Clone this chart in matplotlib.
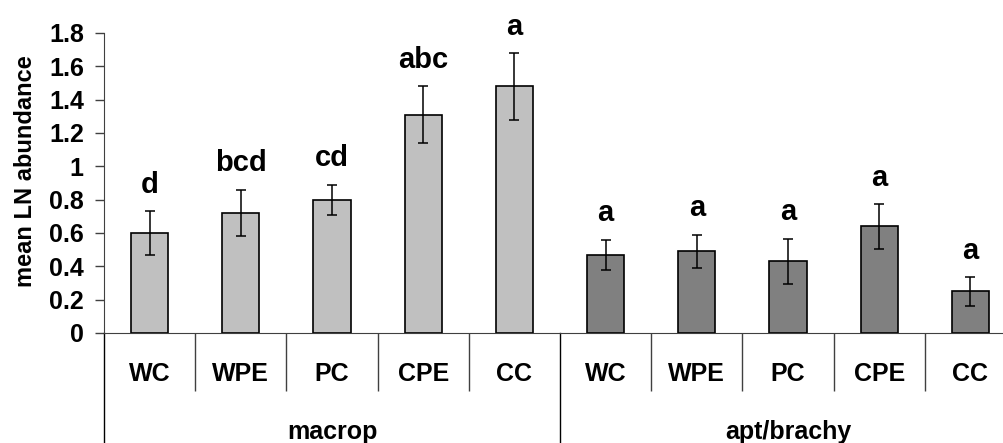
import numpy as np
import matplotlib
matplotlib.use("Agg")
import matplotlib.pyplot as plt
from matplotlib.ticker import FixedLocator, NullFormatter

plt.rcParams["font.family"] = ["Liberation Sans", "DejaVu Sans"]
plt.rcParams["font.weight"] = "bold"

# treatments within each wing-morph group
treatments = ["WC", "WPE", "PC", "CPE", "CC"]
groups = ["macrop", "apt/brachy"]

macrop_mean = [0.60, 0.72, 0.80, 1.31, 1.48]
macrop_err = [0.13, 0.14, 0.09, 0.17, 0.20]
macrop_letters = ["d", "bcd", "cd", "abc", "a"]

apt_mean = [0.47, 0.49, 0.43, 0.64, 0.25]
apt_err = [0.09, 0.10, 0.135, 0.135, 0.085]
apt_letters = ["a", "a", "a", "a", "a"]

y_ticks = [0, 0.2, 0.4, 0.6, 0.8, 1, 1.2, 1.4, 1.6, 1.8]

line_col = "#404040"
tick_fs = 18

fig = plt.figure(figsize=(10.04, 4.43), dpi=100)
# axes runs a little past the right edge of the figure, as in the original layout
ax = fig.add_axes([104 / 1004, 110 / 443, 912 / 1004, 300 / 443])

n = len(treatments)
x_mac = np.arange(n) + 0.5
x_apt = np.arange(n) + n + 0.5
bar_w = 0.41

for xs, means, errs, letters, colour in [
    (x_mac, macrop_mean, macrop_err, macrop_letters, "#c0c0c0"),
    (x_apt, apt_mean, apt_err, apt_letters, "#808080"),
]:
    ax.bar(xs, means, width=bar_w, color=colour, edgecolor="black", linewidth=1.2, zorder=2)
    ax.errorbar(xs, means, yerr=errs, fmt="none", ecolor="black", elinewidth=1.1,
                capsize=3.3, capthick=1.1, zorder=3)
    for x, m, e, lab in zip(xs, means, errs, letters):
        ax.text(x, m + e + 0.11, lab, ha="center", va="baseline", fontsize=21,
                fontweight="bold")

ax.set_xlim(0, 2 * n)
ax.set_ylim(0, 1.8)

# y axis
ax.set_yticks(y_ticks)
ax.set_yticklabels([f"{v:g}" for v in y_ticks], fontsize=tick_fs, fontweight="bold")
ax.tick_params(axis="y", direction="out", length=6.5, width=1, color=line_col, pad=8)
ax.set_ylabel("mean LN abundance", fontsize=17, fontweight="bold")
ax.yaxis.set_label_coords(-0.074, 0.54)

# category axis: separators as long ticks, names as minor tick labels
seps = [i for i in range(1, 2 * n) if i != n]
ax.xaxis.set_major_locator(FixedLocator(seps))
ax.xaxis.set_major_formatter(NullFormatter())
ax.xaxis.set_minor_locator(FixedLocator(np.concatenate([x_mac, x_apt])))
ax.set_xticklabels(treatments * 2, minor=True, fontsize=tick_fs, fontweight="bold")
ax.tick_params(axis="x", which="major", direction="out", length=42, width=1, color=line_col)
ax.tick_params(axis="x", which="minor", length=0, pad=21)

for side in ["top", "right"]:
    ax.spines[side].set_visible(False)
ax.spines["left"].set_color(line_col)
ax.spines["bottom"].set_color(line_col)

# group separators running down to the bottom edge, and group names
trans = ax.get_xaxis_transform()
for xb in [0, n, 2 * n]:
    ax.plot([xb, xb], [0, -0.37], color="black", lw=1, transform=trans, clip_on=False)
for i, g in enumerate(groups):
    ax.text(i * n + n / 2, -0.33, g, transform=trans, ha="center", va="center",
            fontsize=tick_fs, fontweight="bold")

fig.savefig("out.png", dpi=100)
